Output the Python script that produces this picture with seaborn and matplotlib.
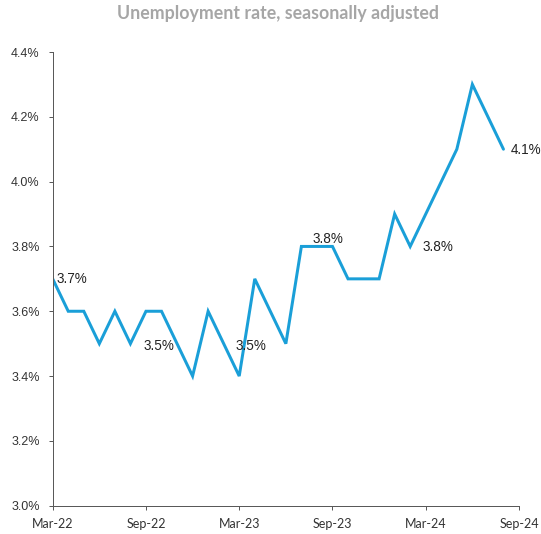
import matplotlib
matplotlib.use("Agg")
import matplotlib.pyplot as plt
import seaborn as sns
import pandas as pd

months = ["Mar-22", "Apr-22", "May-22", "Jun-22", "Jul-22", "Aug-22", "Sep-22", "Oct-22",
          "Nov-22", "Dec-22", "Jan-23", "Feb-23", "Mar-23", "Apr-23", "May-23", "Jun-23",
          "Jul-23", "Aug-23", "Sep-23", "Oct-23", "Nov-23", "Dec-23", "Jan-24", "Feb-24",
          "Mar-24", "Apr-24", "May-24", "Jun-24", "Jul-24", "Aug-24"]
rate = [3.7, 3.6, 3.6, 3.5, 3.6, 3.5, 3.6, 3.6, 3.5, 3.4, 3.6, 3.5, 3.4, 3.7, 3.6, 3.5,
        3.8, 3.8, 3.8, 3.7, 3.7, 3.7, 3.9, 3.8, 3.9, 4.0, 4.1, 4.3, 4.2, 4.1]
tick_labels = ["Mar-22", "Sep-22", "Mar-23", "Sep-23", "Mar-24", "Sep-24"]
y_ticks = [3.0, 3.2, 3.4, 3.6, 3.8, 4.0, 4.2, 4.4]
labelled = ["Mar-22", "Aug-22", "Feb-23", "Aug-23", "Feb-24", "Aug-24"]

df = pd.DataFrame({"month": months, "rate": rate})
df["pos"] = range(len(df))

sns.set_style("white")
plt.rcParams["font.family"] = ["Liberation Sans", "DejaVu Sans"]

fig = plt.figure(figsize=(541 / 72, 534 / 72), dpi=72)
ax = fig.add_axes([52.7 / 541, 1 - 505.7 / 534, (519 - 52.7) / 541, (505.7 - 52) / 534])

sns.lineplot(data=df, x="pos", y="rate", ax=ax, color="#1A9FD8", linewidth=3.0,
             solid_joinstyle="miter")

ax.set_xlim(0, 30)
ax.set_ylim(3.0, 4.4)
ax.set_xticks(range(0, 31, 6))
ax.set_xticklabels(tick_labels, fontfamily="Lato", fontsize=12.5, color="#333333")
ax.set_yticks(y_ticks)
ax.set_yticklabels([f"{v:.1f}%" for v in y_ticks], fontsize=12.5, color="#333333")
ax.set_xlabel("")
ax.set_ylabel("")
ax.tick_params(axis="both", direction="out", length=4, width=1, color="#595959",
               left=True, bottom=True)
ax.tick_params(axis="y", pad=9)
ax.tick_params(axis="x", pad=8)
for s in ["top", "right"]:
    ax.spines[s].set_visible(False)
for s in ["left", "bottom"]:
    ax.spines[s].set_color("#595959")
    ax.spines[s].set_linewidth(1)

offsets = {
    "Mar-22": (3.5, 0, "left", "center"),
    "Aug-22": (13.5, -2, "left", "center"),
    "Feb-23": (12, -2, "left", "center"),
    "Aug-23": (11, 7, "center", "center"),
    "Feb-24": (12, -1, "left", "center"),
    "Aug-24": (7, -1, "left", "center"),
}
for m in labelled:
    row = df[df["month"] == m].iloc[0]
    dx, dy, ha, va = offsets[m]
    ax.annotate(f"{row['rate']:.1f}%", (row["pos"], row["rate"]), xytext=(dx, dy),
                textcoords="offset points", ha=ha, va=va, fontsize=13.5, color="#222222")

fig.text(278 / 541, 1 - 14 / 534, "Unemployment rate, seasonally adjusted",
         ha="center", va="center", fontsize=17.8, fontweight="bold",
         fontfamily="Lato", color="#A6A6A6")

fig.savefig("out.png", dpi=72)
